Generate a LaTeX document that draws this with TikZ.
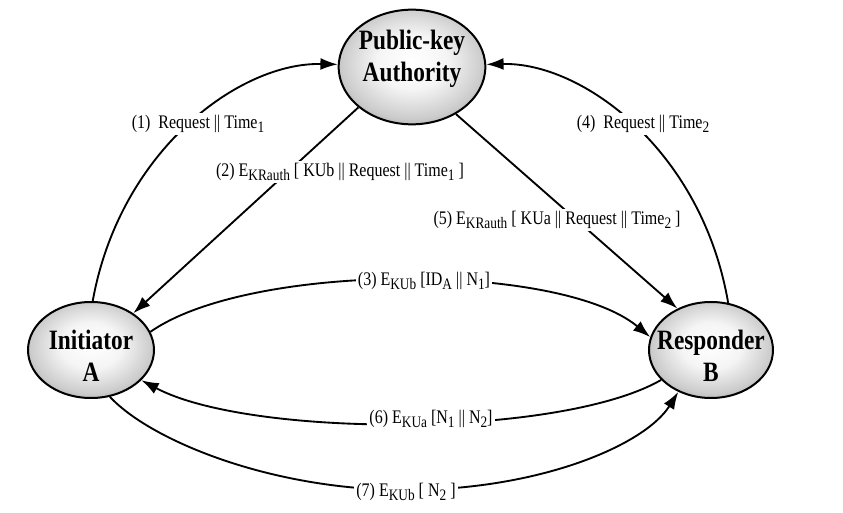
\documentclass[tikz,border=0pt]{standalone}
\usepackage{fontspec}
\setmainfont{Liberation Serif}
\usetikzlibrary{shapes.geometric,arrows.meta}
\newcommand\tall[1]{\scalebox{1}[1.2]{#1}}
\newcommand\lsub[1]{\raisebox{-0.45ex}{\fontsize{10}{10}\selectfont #1}}
\newcommand\shiftbox[2]{\raisebox{#1}[\height][\depth]{#2}}
\pgfdeclareradialshading{partyshade}{\pgfpoint{0bp}{3bp}}{%
  color(0bp)=(white); color(12bp)=(black!4); color(24bp)=(black!20);
  color(35bp)=(black!46); color(50bp)=(black!55)}
\begin{document}
\begin{tikzpicture}[x=0.75pt,y=-0.75pt,
  party/.style={ellipse, draw=black, line width=1.5pt, shading=partyshade,
    inner sep=-10pt, font=\fontsize{17.5}{20}\selectfont\bfseries},
  msg/.style={fill=white, inner sep=1.5pt, font=\fontsize{12}{13}\selectfont},
  arr/.style={-{Latex[length=13pt,width=9pt]}, line width=1.4pt}]
\useasboundingbox (0,0) rectangle (843,513);

\node[party, minimum width=110pt, minimum height=86pt] (P) at (412,67)
  {\shiftbox{6pt}{\tall{\begin{tabular}{@{}c@{}}Public-key\\Authority\end{tabular}}}};
\node[party, minimum width=94.5pt, minimum height=72pt] (A) at (91,350)
  {\shiftbox{-7pt}{\tall{\begin{tabular}{@{}c@{}}Initiator\\A\end{tabular}}}};
\node[party, minimum width=93pt, minimum height=72pt] (B) at (711,350)
  {\shiftbox{-7pt}{\tall{\begin{tabular}{@{}c@{}}Responder\\B\end{tabular}}}};

\draw[arr] (A.88) .. controls (120,150) and (240,62) .. (P.178);
\draw[arr] (B.70) .. controls (702,150) and (582,62) .. (P.2);
\draw[arr] (P.217) -- (A.41);
\draw[arr] (P.313) -- (B.129);
\draw[arr] (A.17) .. controls (250,262) and (560,262) .. (B.168);
\draw[arr] (B.211) .. controls (560,438) and (250,438) .. (A.329);
\draw[arr] (A.292) .. controls (150,440) and (270,490) .. (406,490)
  .. controls (540,490) and (645,445) .. (B.232);

\node[msg] (m1) at (198,124) {\tall{(1)~~Request || Time\lsub{1}}};
\node[msg] (m2) at (340,172) {\tall{(2) E\lsub{KRauth} [ KUb || Request || Time\lsub{1} ]}};
\node[msg] (m4) at (643,124) {\tall{(4)~~Request || Time\lsub{2}}};
\node[msg] (m5) at (557,220) {\tall{(5) E\lsub{KRauth} [ KUa || Request || Time\lsub{2} ]}};
\node[msg] (m3) at (424,281) {\tall{(3) E\lsub{KUb} [ID\lsub{A} || N\lsub{1}]}};
\node[msg] (m6) at (431,419) {\tall{(6) E\lsub{KUa} [N\lsub{1} || N\lsub{2}]}};
\node[msg] (m7) at (406,492) {\tall{(7) E\lsub{KUb} [ N\lsub{2} ]}};
\end{tikzpicture}
\end{document}
